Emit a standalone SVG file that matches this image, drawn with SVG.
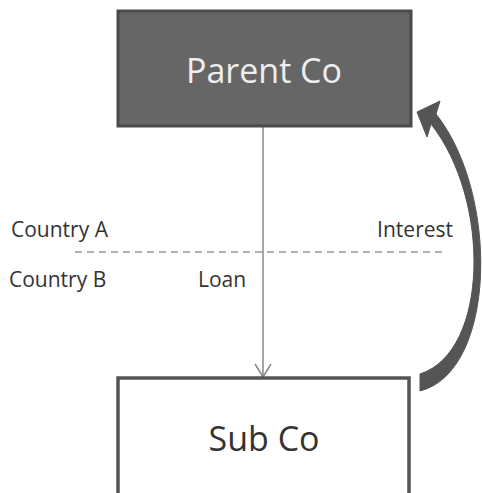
<svg xmlns="http://www.w3.org/2000/svg" width="482" height="493" viewBox="0 0 482 493">
<style>
.lbl{font-family:"Open Sans","Liberation Sans",sans-serif;font-size:21px;fill:#333}
.big{font-family:"Open Sans","Liberation Sans",sans-serif;font-size:34px}
</style>
<rect width="482" height="493" fill="#fff"/>
<g id="divider">
<line x1="75" y1="252" x2="445" y2="252" stroke="#999" stroke-width="1.5" stroke-dasharray="7,5"/>
<text class="lbl" x="11" y="237">Country A</text>
<text class="lbl" x="9" y="287">Country B</text>
</g>
<g id="connectors">
<line x1="263" y1="127" x2="263" y2="377" stroke="#888" stroke-width="1.5"/>
<path d="M255,364 L263,377 L271,364" fill="none" stroke="#888" stroke-width="1.5"/>
<text class="lbl" x="198" y="287">Loan</text>
<path d="M420,391 C496,372 500,195 436,114 L440,101 L417,112 L427,137 L431,124 C491,200 489,352 420,374 Z" fill="#555" stroke="#555" stroke-width="1" stroke-linejoin="round"/>
<text class="lbl" x="453" y="237" text-anchor="end">Interest</text>
</g>
<g id="parent">
<rect x="118" y="11" width="293" height="115" fill="#666" stroke="#4a4a4a" stroke-width="3"/>
<text class="big" x="264" y="83" text-anchor="middle" fill="#eee">Parent Co</text>
</g>
<g id="sub">
<path d="M118,495 L118,378 L409,378 L409,495" fill="#fff" stroke="#555" stroke-width="3.5"/>
<text class="big" x="264" y="451" text-anchor="middle" fill="#333">Sub Co</text>
</g>
</svg>
